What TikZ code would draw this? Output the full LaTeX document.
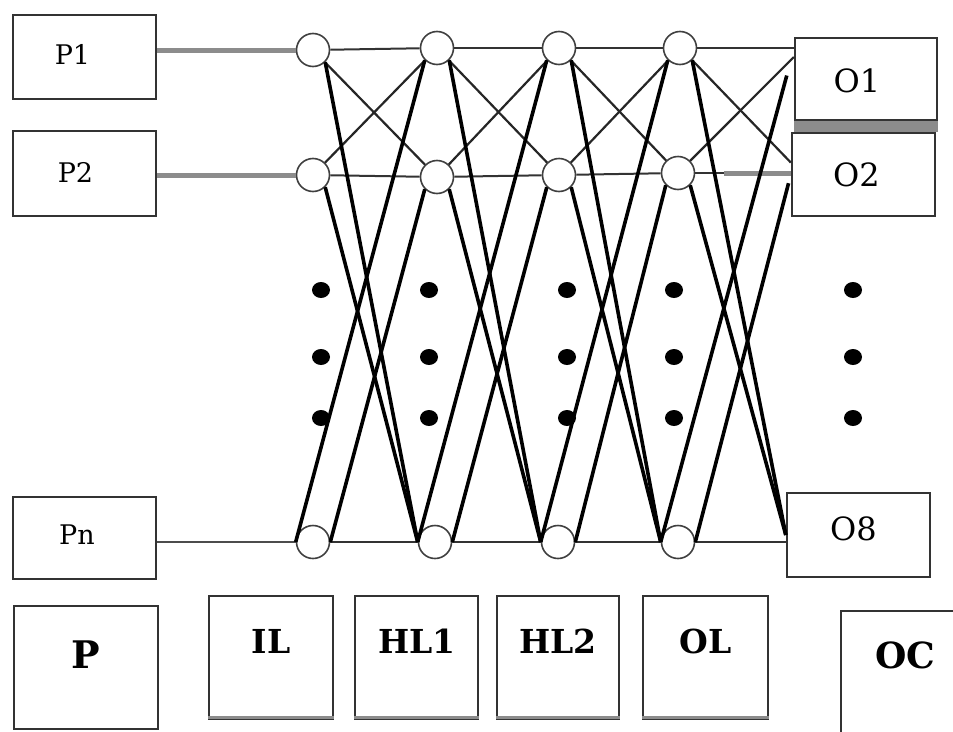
\documentclass[tikz,border=0pt]{standalone}
\usepackage{fontspec}
\setmainfont{DejaVu Serif}
\usetikzlibrary{calc}

\begin{document}
\begin{tikzpicture}[x=1pt,y=-1pt,
  frame/.style={draw=black!80, line width=2.4pt, inner sep=0pt},
  inbox/.style={frame, minimum width=143pt},
  intext/.style={font=\fontsize{27}{27}\selectfont, inner sep=0pt},
  outtext/.style={font=\fontsize{32}{32}\selectfont, inner sep=0pt},
  layerbox/.style={frame, anchor=north west, text height=57pt, text depth=66pt,
    font=\fontsize{33}{33}\selectfont\bfseries},
  neuron/.style={circle, draw=black!75, line width=1.6pt, minimum size=33pt, inner sep=0pt},
  rowline/.style={draw=black!80, line width=2pt},
  feedline/.style={draw=black!45, line width=5pt},
  thinlink/.style={draw=black!85, line width=2.2pt},
  thicklink/.style={draw=black, line width=3.6pt},
  shade/.style={draw=black!45, line width=3.5pt}
]
\fill[white] (0,0) rectangle (953,731);
\useasboundingbox (0,0) rectangle (953,731);

% input boxes
\node[inbox, minimum height=84pt, label={[intext, xshift=-12pt, yshift=3pt]center:P1}] (P1) at (84.5,57) {};
\node[inbox, minimum height=85pt, label={[intext, xshift=-9pt, yshift=1pt]center:P2}] (P2) at (84.5,173.5) {};
\node[inbox, minimum height=82pt, label={[intext, xshift=-7.5pt, yshift=3pt]center:Pn}] (Pn) at (84.5,538) {};

% output boxes
\node[frame, minimum width=142pt, minimum height=82pt, label={[outtext, xshift=-9pt, yshift=-2pt]center:O1}] (O1) at (866,79) {};
\node[frame, minimum width=143pt, minimum height=83pt, label={[outtext, xshift=-7pt]center:O2}] (O2) at (863.5,174.5) {};
\node[frame, minimum width=143pt, minimum height=84pt, label={[outtext, xshift=-5pt, yshift=6pt]center:O8}] (O8) at (858.5,535) {};
\fill[black!45] (O1.south west) rectangle (O1.south east |- O2.north);

% layer captions
\node[layerbox, minimum width=144pt, text height=62pt, text depth=61pt,
  font=\fontsize{38}{38}\selectfont\bfseries] (P) at (13,605) {P};
\node[layerbox, minimum width=124pt] (IL) at (208,595) {IL};
\node[layerbox, minimum width=123pt] (HL1) at (354,595) {HL1};
\node[layerbox, minimum width=122pt] (HL2) at (496,595) {HL2};
\node[layerbox, minimum width=125pt] (OL) at (642,595) {OL};
\node[layerbox, minimum width=128pt, text height=57pt, text depth=80pt,
  font=\fontsize{36}{36}\selectfont\bfseries] (OC) at (840,610) {OC};
\foreach \b in {IL,HL1,HL2,OL}
  \draw[shade] ([yshift=3pt]\b.south west) -- ([yshift=3pt]\b.south east);

% neurons: rows 1, 2 and n, columns 1..4
\node[neuron] (c11) at (313,50) {};
\node[neuron] (c12) at (437,48) {};
\node[neuron] (c13) at (559,48) {};
\node[neuron] (c14) at (680,48) {};
\node[neuron] (c21) at (313,175) {};
\node[neuron] (c22) at (437,177) {};
\node[neuron] (c23) at (559,175) {};
\node[neuron] (c24) at (678,173) {};
\node[neuron] (cn1) at (313,542) {};
\node[neuron] (cn2) at (435,542) {};
\node[neuron] (cn3) at (558,542) {};
\node[neuron] (cn4) at (678,542) {};

% inputs feeding the first layer
\draw[feedline] (c11.west -| P1.east) -- (c11.west);
\draw[feedline] (c21.west -| P2.east) -- (c21.west);
\draw[rowline, line width=2.6pt, draw=black!70] (cn1.west -| Pn.east) -- (cn1.west);

% straight row links
\foreach \i/\j in {1/2,2/3,3/4} {
  \draw[rowline] (c1\i) -- (c1\j);
  \draw[rowline] (c2\i) -- (c2\j);
  \draw[rowline] (cn\i) -- (cn\j);
}
\draw[rowline] (c14.east) -- (c14.east -| O1.west);
\draw[rowline] (c24.east) -- (c24.east -| O2.west);
\draw[feedline] ($(c24.east)!0.3!(c24.east -| O2.west)$) -- (c24.east -| O2.west);
\draw[rowline] (cn4.east) -- (cn4.east -| O8.west);

% crossing links between neighbouring layers
\foreach \i/\j in {1/2,2/3,3/4} {
  \draw[thinlink] (c1\i) -- (c2\j);
  \draw[thinlink] (c2\i) -- (c1\j);
  \draw[thicklink] (c1\i.south east) -- (cn\j.west);
  \draw[thicklink] (c2\i.south east) -- (cn\j.west);
  \draw[thicklink] (cn\i.west) -- (c1\j.south west);
  \draw[thicklink] (cn\i.east) -- (c2\j.south west);
}

% output layer to output boxes
\draw[thinlink] (c14.south east) -- ($(O2.north west)!0.36!(O2.south west)$);
\draw[thinlink] (c24.north east) -- ($(O1.north west)!0.24!(O1.south west)$);
\draw[thicklink] (c14.south east) -- (O8.west);
\draw[thicklink] (c24.south east) -- (O8.west);
\draw[thicklink, shorten >=27pt] (cn4.west) -- ($(O1.north west)!0.15!(O1.south west)$);
\draw[thicklink, shorten >=9pt] (cn4.east) -- (O2.west);

% ellipsis dots
\foreach \x in {321,429,567,674,853}
  \foreach \y in {290,357,418}
    \fill (\x,\y) ellipse [x radius=9pt, y radius=8pt];
\end{tikzpicture}
\end{document}
